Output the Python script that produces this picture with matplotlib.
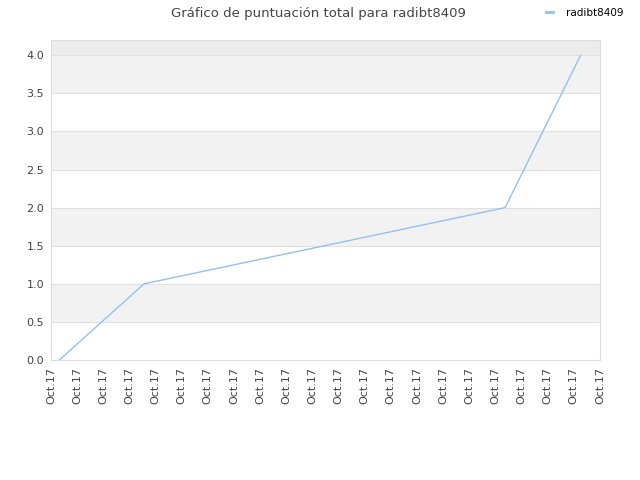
import numpy as np
import matplotlib.pyplot as plt

# datos
x_vals = [0.32, 3.56, 17.37, 20.26]
scores = [0.0, 1.0, 2.0, 4.0]
tick_labels = ['Oct.17'] * 22
series_name = 'radibt8409'

fig = plt.figure(figsize=(6.4, 4.8), dpi=100)
ax = fig.add_axes([51/640, 120/480, 549/640, 320/480])

ymax = 4.2
# bandas alternas
for lo in np.arange(0.5, 4.0, 1.0):
    ax.axhspan(lo, lo + 0.5, color='#f2f2f2', zorder=0, lw=0)
ax.axhspan(4.0, ymax, color='#ececec', zorder=0, lw=0)
for yv in np.arange(0.5, 4.01, 0.5):
    ax.axhline(yv, color='#e0e0e0', lw=0.8, zorder=1)

ax.plot(x_vals, scores, color='#92c1f2', lw=1.0, zorder=3)

ax.set_xlim(0, len(tick_labels) - 1)
ax.set_ylim(0, ymax)
ax.set_xticks(np.arange(len(tick_labels)))
ax.set_xticklabels(tick_labels, rotation=90)
ax.set_yticks(np.arange(0, 4.01, 0.5))
ax.set_yticklabels(['%.1f' % v for v in np.arange(0, 4.01, 0.5)])
ax.tick_params(length=0, labelsize=8, labelcolor='#444444', pad=5)
for s in ax.spines.values():
    s.set_color('#dddddd')

fig.text(318/640, 1 - 13/480, 'Gráfico de puntuación total para radibt8409',
         ha='center', va='center', fontsize=9.5, color='#444444')

# leyenda
h, = ax.plot([], [], color='#92c1f2', lw=2, label=series_name)
fig.legend(handles=[h], loc='center left', bbox_to_anchor=(537/640, 1 - 13/480),
           frameon=False, fontsize=7.5, handlelength=0.6, handletextpad=1.3)

fig.savefig('out.png', dpi=100)
